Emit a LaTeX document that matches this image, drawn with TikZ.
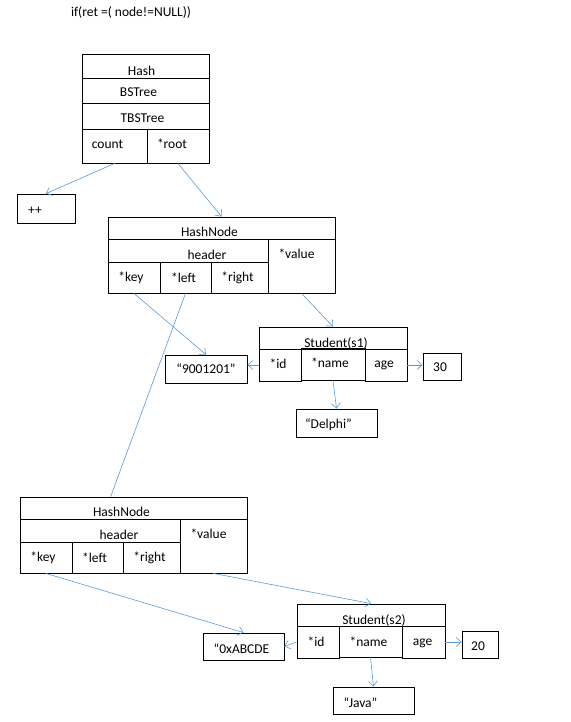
\documentclass[tikz,border=0pt]{standalone}
\usepackage{fontspec}
\setmainfont{Carlito}
\usetikzlibrary{arrows.meta,calc}

\definecolor{ptrblue}{RGB}{91,155,213}

\tikzset{
  cell/.style={draw,rectangle,inner sep=0pt,line width=.9pt},
  val/.style={cell},
  ptr/.style={draw=ptrblue,line width=.6pt,-{Straight Barb[length=5pt,width=9pt]}},
  ptrline/.style={draw=ptrblue,line width=.6pt},
}

\begin{document}
\begin{tikzpicture}[
  x=1pt, y=-1pt,
  font=\fontsize{13.5}{16}\selectfont,
  ]
  \useasboundingbox (0,0) rectangle (570,722);

  \node (cond) at (131,13) {if(ret =( node!=NULL))};

  % Hash / BSTree / TBSTree
  \node[cell,minimum width=127,minimum height=24,label={[shift={(-4,5)}]center:Hash}] (hash) at (145.5,66) {};
  \node[cell,minimum width=127,minimum height=25,label={[shift={(-7,2)}]center:BSTree}] (bst) at (145.5,90.5) {};
  \node[cell,minimum width=127,minimum height=26,label={[shift={(-3,2)}]center:TBSTree}] (tbst) at (145.5,116) {};
  \node[cell,minimum width=65,minimum height=34,label={[shift={(-7,-2)}]center:count}] (count) at (114.5,146) {};
  \node[cell,minimum width=62,minimum height=34,label={[shift={(-6,-2)}]center:*root}] (root) at (178,146) {};
  \node[val,minimum width=58,minimum height=29,label={[shift={(-11,2)}]center:++}] (incr) at (46,208.5) {};

  % first HashNode
  \node[cell,minimum width=227,minimum height=22,label={[shift={(-12,4)}]center:HashNode}] (hnA) at (221.5,228) {};
  \node[cell,minimum width=160,minimum height=23,label={[shift={(19,4)}]center:header}] (hdrA) at (188,250.5) {};
  \node[cell,minimum width=67,minimum height=54,label={[shift={(-5,-12)}]center:*value}] (valA) at (301.5,266) {};
  \node[cell,minimum width=52,minimum height=31,label={[shift={(-3,0)}]center:*key}] (keyA) at (134,277.5) {};
  \node[cell,minimum width=51,minimum height=31,label={[shift={(-2,0)}]center:*left}] (leftA) at (185.5,277.5) {};
  \node[cell,minimum width=57,minimum height=31,label={[shift={(-2,0)}]center:*right}] (rightA) at (239.5,277.5) {};

  % Student(s1)
  \node[cell,minimum width=148,minimum height=22,label={[shift={(3,5)}]center:Student(s1)}] (stuA) at (333,338) {};
  \node[cell,minimum width=42,minimum height=32,label={[shift={(-2,-1)}]center:*id}] (idA) at (280,365) {};
  \node[cell,minimum width=64,minimum height=32,label={[shift={(-3,-1)}]center:*name}] (nameA) at (333,364) {};
  \node[cell,minimum width=42,minimum height=32,label={[shift={(-2,0)}]center:age}] (ageA) at (386,365) {};
  \node[val,minimum width=38,minimum height=27,label={[shift={(-2,1)}]center:30}] (ageValA) at (442,366.5) {};
  \node[val,minimum width=82,minimum height=28,label={center:“9001201”}] (keyValA) at (206,369) {};
  \node[val,minimum width=81,minimum height=28,label={[shift={(-8,2)}]center:“Delphi”}] (nameValA) at (336.5,423) {};

  % second HashNode
  \node[cell,minimum width=227,minimum height=22,label={[shift={(-12,4)}]center:HashNode}] (hnB) at (133.5,508) {};
  \node[cell,minimum width=160,minimum height=23,label={[shift={(19,4)}]center:header}] (hdrB) at (100,530.5) {};
  \node[cell,minimum width=67,minimum height=54,label={[shift={(-5,-12)}]center:*value}] (valB) at (213.5,546) {};
  \node[cell,minimum width=52,minimum height=31,label={[shift={(-3,0)}]center:*key}] (keyB) at (46,557.5) {};
  \node[cell,minimum width=51,minimum height=31,label={[shift={(-3,0)}]center:*left}] (leftB) at (97.5,557.5) {};
  \node[cell,minimum width=57,minimum height=31,label={[shift={(-2,0)}]center:*right}] (rightB) at (151.5,557.5) {};

  % Student(s2)
  \node[cell,minimum width=148,minimum height=22,label={[shift={(3,5)}]center:Student(s2)}] (stuB) at (371,615) {};
  \node[cell,minimum width=42,minimum height=32,label={[shift={(-2,0)}]center:*id}] (idB) at (318,642) {};
  \node[cell,minimum width=63,minimum height=31,label={[shift={(-2,0)}]center:*name}] (nameB) at (370.5,641.5) {};
  \node[cell,minimum width=43,minimum height=32,label={[shift={(-1,1)}]center:age}] (ageB) at (423.5,642) {};
  \node[val,minimum width=36,minimum height=27,label={[shift={(-2,2)}]center:20}] (ageValB) at (480,644.5) {};
  \node[val,minimum width=81,minimum height=27,label={[shift={(-2,2)}]center:“0xABCDE}] (keyValB) at (243.5,646.5) {};
  \node[val,minimum width=81,minimum height=27,label={[shift={(-13,2)}]center:“Java”}] (nameValB) at (373.5,700.5) {};

  % pointers
  \draw[ptr] (count.south) -- (incr.north);
  \draw[ptr] (root.south) -- (hnA.north);
  \draw[ptr] (keyA.south) -- (keyValA.north);
  \draw[ptrline] (leftA.south) -- ($(hnB.north west)!.4!(hnB.north east)$);
  \draw[ptr] (valA.south) -- (stuA.north);
  \draw[ptr] (idA.west) -- (idA.west -| keyValA.east);
  \draw[ptr] (ageA.east) -- (ageA.east -| ageValA.west);
  \draw[ptr] (nameA.south) -- (nameValA.north);
  \draw[ptr] (keyB.south) -- (keyValB.north);
  \draw[ptr] (valB.south) -- (stuB.north);
  \draw[ptr] (idB.west) -- (keyValB.east);
  \draw[ptr] (ageB.east) -- (ageB.east -| ageValB.west);
  \draw[ptr] (nameB.south) -- (nameValB.north);
\end{tikzpicture}
\end{document}
